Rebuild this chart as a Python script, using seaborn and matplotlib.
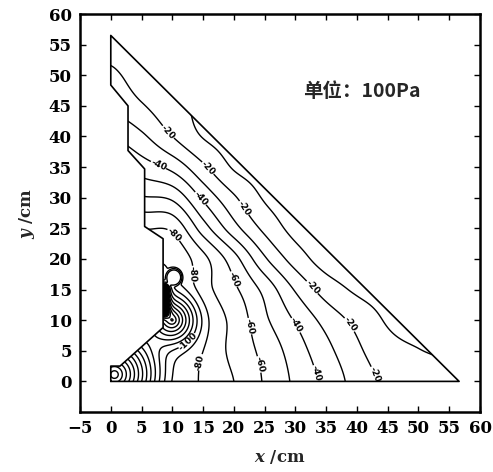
import numpy as np
import matplotlib
matplotlib.use("Agg")
import matplotlib.pyplot as plt
from matplotlib.patches import Polygon
import pandas as pd
import seaborn as sns

# ---------------- data ----------------
GRID_X = [0, 5, 10, 15, 20, 25, 30, 35, 40, 45, 50, 55, 60]
GRID_Y = [0, 5, 10, 15, 20, 25, 30, 35, 40, 45, 50, 55, 60]
# background pressure (unit 100 Pa), one row per GRID_Y value
BG_Y00 = [-84, -83, -82, -79, -70, -59, -48, -37, -26, -17.5, -14, -12, -11]
BG_Y05 = [-86, -85, -84, -78, -67, -57, -45, -33, -22, -13.5, -10.3, -9, -8.5]
BG_Y10 = [-88, -87, -85, -76, -67, -52, -39, -26.5, -17, -9, -6.5, -6, -6]
BG_Y15 = [-89, -88, -87, -73, -62, -47, -29, -15.5, -8.5, -6, -5, -5, -5]
BG_Y20 = [-90, -89, -88, -73, -54, -31.5, -15.5, -6, -5, -4, -4, -4, -4]
BG_Y25 = [-88, -80, -78, -55, -34, -17.5, -7, -5, -4, -4, -4, -4, -4]
BG_Y30 = [-66, -61, -58, -38, -21.5, -9, -6, -5, -4, -4, -4, -4, -4]
BG_Y35 = [-52, -45, -37, -22, -9, -6, -5, -4, -4, -4, -4, -4, -4]
BG_Y40 = [-40, -32, -20, -9.5, -6, -5, -4, -4, -4, -4, -4, -4, -4]
BG_Y45 = [-28, -21, -13, -8, -6, -5, -4, -4, -4, -4, -4, -4, -4]
BG_Y50 = [-22, -15, -11, -8, -6, -5, -4, -4, -4, -4, -4, -4, -4]
BG_Y55 = [-16, -12, -10, -8, -6, -5, -4, -4, -4, -4, -4, -4, -4]
BG_Y60 = [-13, -11, -9.5, -8, -6, -5, -4, -4, -4, -4, -4, -4, -4]

# local features
# ring centre (cone: slope per cm, radius, rounding)
RING_X, RING_Y, RING_SLOPE, RING_RADIUS, RING_ROUND = 10.0, 10.0, 17.0, 5.0, 1.0
# corner notch (cone)
NOTCH_X, NOTCH_Y, NOTCH_SLOPE, NOTCH_RADIUS, NOTCH_ROUND = 0.6, 1.1, 15.0, 9.0, 1.0
# dense band along the wall
BLOB_X, BLOB_Y0, BLOB_Y1, BLOB_DEPTH, BLOB_SCALE = 8.5, 11.5, 15.0, 400.0, 0.4
# closed white ellipse (flat region)
HOLE_X, HOLE_Y, HOLE_LEVEL, HOLE_AX, HOLE_AY = 10.25, 17.0, -115.0, 1.35, 1.45

# outline of the domain
BOUNDARY_X = [0, 0, 1.5, 8.5, 8.5, 5.5, 5.5, 2.8, 2.8, 0, 0, 56.6, 0]
BOUNDARY_Y = [0, 2.5, 2.5, 8.8, 23.3, 25.3, 34.7, 37.7, 45.0, 48.4, 56.5, 0, 0]

LEVELS = list(range(-600, -5, 10))
LABEL_LEVELS = [-100, -80, -60, -40, -20]
LABEL_POS = [(9.3, 40.7), (15.3, 34.4), (21.0, 27.9), (32.1, 14.8), (38.3, 8.9), (43.2, 1.3),
             (8.0, 35.9), (14.5, 29.8), (29.6, 8.9), (33.2, 1.3),
             (23.0, 9.1), (24.7, 2.9), (19.0, 16.3),
             (10.4, 24.1), (15.0, 17.5), (15.6, 2.9),
             (12.4, 6.6)]
X_TICKS = [-5, 0, 5, 10, 15, 20, 25, 30, 35, 40, 45, 50, 55, 60]
Y_TICKS = [0, 5, 10, 15, 20, 25, 30, 35, 40, 45, 50, 55, 60]
UNIT_TEXT = "单位：100Pa"

# ---------------- style ----------------
sns.set_theme(style="ticks")
plt.rcParams["font.family"] = ["DejaVu Serif", "Noto Sans CJK SC"]
plt.rcParams["mathtext.fontset"] = "custom"
plt.rcParams["mathtext.it"] = "DejaVu Serif:italic:bold"
plt.rcParams["mathtext.rm"] = "DejaVu Serif:bold"
plt.rcParams["contour.negative_linestyle"] = "solid"

# ---------------- field ----------------
def cr_weights(fine, nodes):
    nodes = np.asarray(nodes, float)
    h = nodes[1] - nodes[0]
    u = (fine - nodes[0]) / h
    i = np.clip(np.floor(u).astype(int), 0, len(nodes) - 2)
    t = u - i
    W = np.zeros((len(fine), len(nodes)))
    ws = [(-t + 2 * t**2 - t**3) / 2, (2 - 5 * t**2 + 3 * t**3) / 2,
          (t + 4 * t**2 - 3 * t**3) / 2, (-t**2 + t**3) / 2]
    rows = np.arange(len(fine))
    for k, w in zip(range(-1, 3), ws):
        idx = np.clip(i + k, 0, len(nodes) - 1)
        np.add.at(W, (rows, idx), w)
    return W


def soft_cone(X, Y, cx, cy, slope, radius, rnd):
    r = np.hypot(X - cx, Y - cy)
    return -slope * rnd * np.logaddexp(0.0, (radius - r) / rnd)


V = np.array([BG_Y00, BG_Y05, BG_Y10, BG_Y15, BG_Y20, BG_Y25, BG_Y30,
              BG_Y35, BG_Y40, BG_Y45, BG_Y50, BG_Y55, BG_Y60], float)
xf = np.linspace(-1, 58, 1181)
yf = np.linspace(-1, 58, 1181)
Bf = cr_weights(yf, GRID_Y) @ V @ cr_weights(xf, GRID_X).T
XF, YF = np.meshgrid(xf, yf)

g1 = soft_cone(XF, YF, RING_X, RING_Y, RING_SLOPE, RING_RADIUS, RING_ROUND)
g4 = soft_cone(XF, YF, NOTCH_X, NOTCH_Y, NOTCH_SLOPE, NOTCH_RADIUS, NOTCH_ROUND)
yc = np.clip(YF, BLOB_Y0, BLOB_Y1)
d2 = np.hypot(XF - BLOB_X, YF - yc)
g2 = -BLOB_DEPTH * np.exp(-d2 / BLOB_SCALE)
P = Bf + g1 + g2 + g4
q = ((XF - HOLE_X) / HOLE_AX) ** 2 + ((YF - HOLE_Y) / HOLE_AY) ** 2
w = np.exp(-q ** 4)
P = P * (1 - w) + HOLE_LEVEL * w

# ---------------- figure ----------------
fig = plt.figure(figsize=(4.93, 4.72), dpi=100)
ax = fig.add_axes([0.1623, 0.1271, 0.8114, 0.8432])

poly = Polygon(np.column_stack([BOUNDARY_X, BOUNDARY_Y]), closed=True,
               facecolor="none", edgecolor="none", transform=ax.transData)
ax.add_patch(poly)

plain_levels = [v for v in LEVELS if v not in LABEL_LEVELS]
cs_plain = ax.contour(XF, YF, P, levels=plain_levels, colors="black",
                      linewidths=1.0, linestyles="solid")
cs_lab = ax.contour(XF, YF, P, levels=LABEL_LEVELS, colors="black",
                    linewidths=1.0, linestyles="solid")
labels = ax.clabel(cs_lab, manual=LABEL_POS, inline=True,
                   inline_spacing=2, fmt="%d", fontsize=6.5)
for t in labels:
    t.set_fontweight("bold")
    t.set_family("DejaVu Sans")
cs_plain.set_clip_path(poly)
cs_lab.set_clip_path(poly)

df = pd.DataFrame({"x": BOUNDARY_X, "y": BOUNDARY_Y})
sns.lineplot(data=df, x="x", y="y", sort=False, estimator=None,
             color="black", linewidth=1.2, ax=ax)

ax.text(31.2, 47.3, UNIT_TEXT, ha="left", va="center", fontsize=14,
        fontweight="bold", family=["Noto Sans CJK SC", "DejaVu Sans"])

ax.set_xlim(-5, 60)
ax.set_ylim(-5, 60)
ax.set_xticks(X_TICKS)
ax.set_yticks(Y_TICKS)
ax.tick_params(direction="in", length=4, width=1, top=True, right=True,
               labelsize=12, pad=6, colors="black")
for lab in ax.get_xticklabels() + ax.get_yticklabels():
    lab.set_fontweight("bold")
for s in ax.spines.values():
    s.set_linewidth(1.8)
    s.set_color("black")
ax.set_xlabel(r"$x$ /cm", fontsize=12, fontweight="bold", labelpad=8)
ax.set_ylabel(r"$y$ /cm", fontsize=12, fontweight="bold", labelpad=8)

fig.savefig("out.png", dpi=100, facecolor="white")
